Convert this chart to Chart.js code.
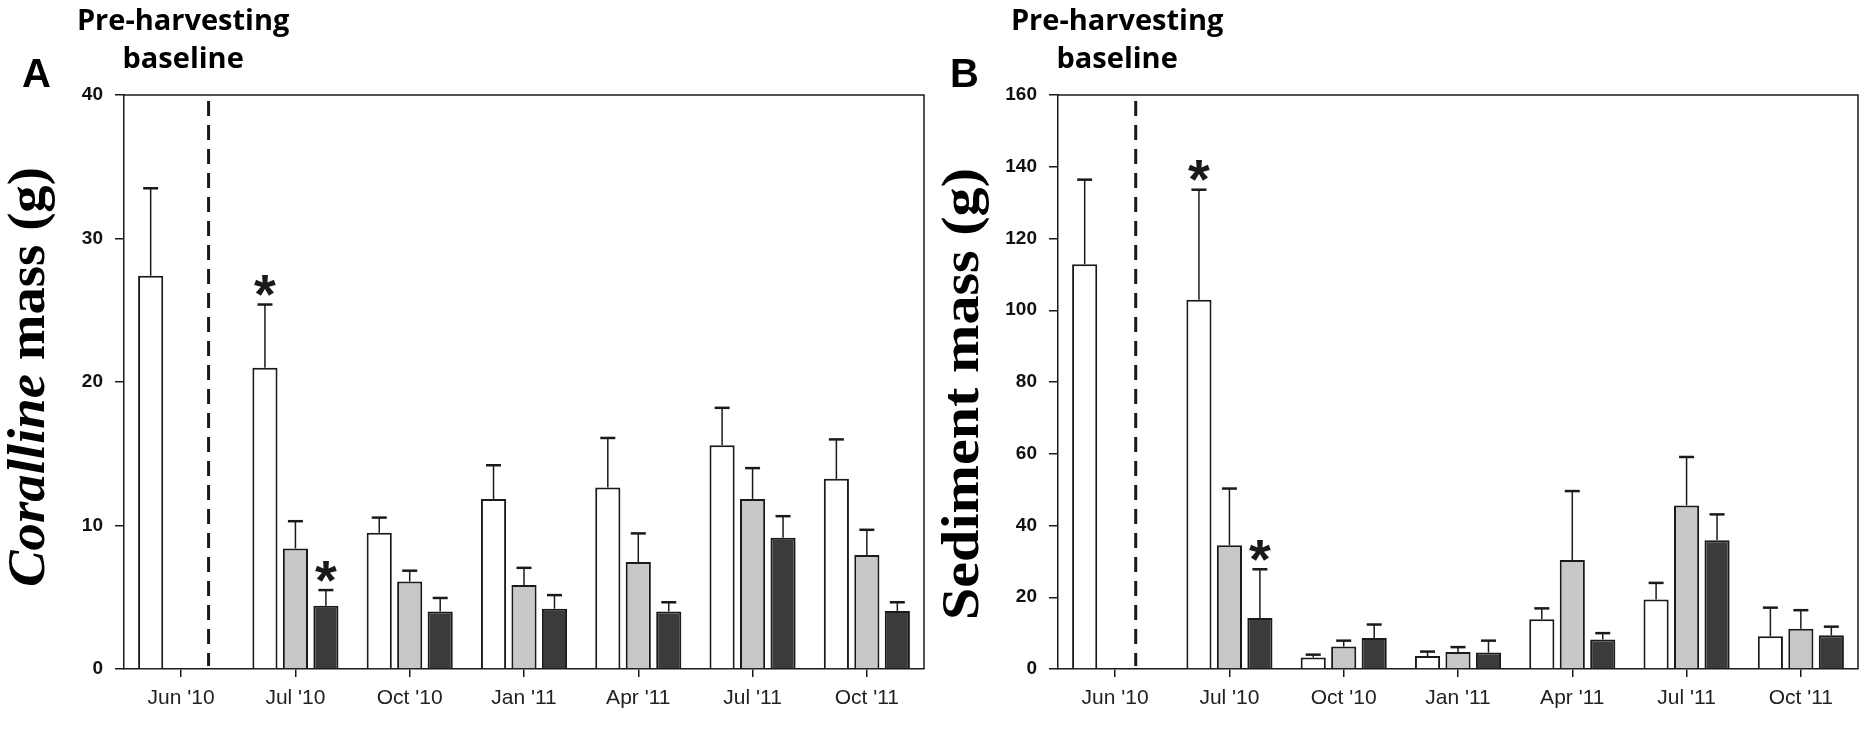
<!DOCTYPE html>
<html>
<head>
<meta charset="utf-8">
<script src="https://cdn.jsdelivr.net/npm/chart.js@4.4.1/dist/chart.umd.min.js"></script>
<style>
    body { margin: 0; background: #ffffff; }
    #wrap { position: relative; width: 1868px; height: 743px; }
    canvas { position: absolute; top: 0; }
    #panelA { left: 0; }
    #panelB { left: 934px; }
</style>
</head>
<body>
<div id="wrap">
    <canvas id="panelA" width="934" height="743"></canvas>
    <canvas id="panelB" width="934" height="743"></canvas>
</div>
<script>
// Categories (sampling dates)
var dates = ["Jun '10", "Jul '10", "Oct '10", "Jan '11", "Apr '11", "Jul '11", "Oct '11"];

// Panel A: Corallina mass (g), means and standard errors
var corallinaWhite = [27.4, 21.0, 9.5, 11.85, 12.65, 15.6, 13.25];
var corallinaWhiteErr = [6.1, 4.4, 1.05, 2.35, 3.45, 2.6, 2.75];
var corallinaGrey = [null, 8.4, 6.1, 5.85, 7.45, 11.85, 7.95];
var corallinaGreyErr = [null, 1.9, 0.75, 1.2, 2.0, 2.15, 1.75];
var corallinaDark = [null, 4.4, 4.0, 4.2, 4.0, 9.15, 4.05];
var corallinaDarkErr = [null, 1.1, 0.95, 0.95, 0.65, 1.5, 0.6];
var corallinaTicks = [0, 10, 20, 30, 40];

// Panel B: Sediment mass (g), means and standard errors
var sedimentWhite = [112.8, 102.9, 3.2, 3.6, 13.9, 19.4, 9.1];
var sedimentWhiteErr = [23.6, 30.7, 0.8, 1.25, 3.0, 4.6, 8.0];
var sedimentGrey = [null, 34.5, 6.25, 4.75, 30.4, 45.6, 11.2];
var sedimentGreyErr = [null, 15.8, 1.65, 1.35, 19.2, 13.5, 5.2];
var sedimentDark = [null, 14.2, 8.66, 4.57, 8.2, 35.9, 9.4];
var sedimentDarkErr = [null, 13.6, 3.74, 3.33, 1.8, 7.2, 2.4];
var sedimentTicks = [0, 20, 40, 60, 80, 100, 120, 140, 160];

// Significance marks: [series index, category index]
var corallinaStars = [[0, 1], [2, 1]];
var sedimentStars = [[0, 1], [2, 1]];

// Baseline divider position (in category units)
var corallinaDivider = 0.24;
var sedimentDivider = 0.18;

var baselineTitle = ['Pre-harvesting', 'baseline'];

var INK = '#1a1a1a';

function decorations(p) {
    return {
        id: 'decor',
        afterDatasetsDraw: function (chart) {
            var c = chart.ctx;
            var area = chart.chartArea;
            var xs = chart.scales.x;
            var ys = chart.scales.y;
            c.save();
            c.strokeStyle = INK;
            c.fillStyle = INK;

            // Error bars (upper only)
            for (var i = 0; i < p.series.length; i++) {
                var meta = chart.getDatasetMeta(i);
                for (var j = 0; j < p.series[i].length; j++) {
                    var v = p.series[i][j];
                    if (v === null) continue;
                    var bar = meta.data[j];
                    var yCap = ys.getPixelForValue(v + p.errors[i][j]);
                    c.lineWidth = 1.5;
                    c.beginPath();
                    c.moveTo(bar.x, bar.y);
                    c.lineTo(bar.x, yCap);
                    c.stroke();
                    c.lineWidth = 2.5;
                    c.beginPath();
                    c.moveTo(bar.x - 7.5, yCap);
                    c.lineTo(bar.x + 7.5, yCap);
                    c.stroke();
                }
            }

            // Dashed line separating the baseline
            var xd = xs.getPixelForValue(p.divider);
            c.lineWidth = 3;
            c.setLineDash([15, 9]);
            c.beginPath();
            c.moveTo(xd, area.top + 6);
            c.lineTo(xd, area.bottom - 3);
            c.stroke();
            c.setLineDash([]);

            // Asterisks
            c.font = 'bold 56px "Liberation Sans"';
            c.textAlign = 'center';
            c.textBaseline = 'alphabetic';
            var m = c.measureText('*');
            var asc = m.actualBoundingBoxAscent;
            var desc = m.actualBoundingBoxDescent;
            for (var k = 0; k < p.stars.length; k++) {
                var s = p.stars[k];
                var b = chart.getDatasetMeta(s[0]).data[s[1]];
                var val = p.series[s[0]][s[1]] + p.errors[s[0]][s[1]];
                var cy = ys.getPixelForValue(val) - 19;
                c.fillText('*', b.x, cy + (asc - desc) / 2);
            }
            c.restore();
        },
        afterDraw: function (chart) {
            var c = chart.ctx;
            var area = chart.chartArea;
            var xs = chart.scales.x;
            c.save();

            // Frame top and right
            c.strokeStyle = INK;
            c.lineWidth = 1.5;
            c.beginPath();
            c.moveTo(area.left, area.top);
            c.lineTo(area.right, area.top);
            c.lineTo(area.right, area.bottom);
            c.stroke();

            c.fillStyle = '#000000';

            // Panel letter
            c.font = 'bold 40px "Liberation Sans"';
            c.textAlign = 'left';
            c.textBaseline = 'alphabetic';
            c.fillText(p.letter, p.letterX, 87);

            // Baseline title above first category
            var cx = xs.getPixelForValue(0);
            c.font = 'bold 29px "Open Sans"';
            c.textAlign = 'center';
            c.fillText(baselineTitle[0], cx + 2, 30);
            c.fillText(baselineTitle[1], cx + 2, 68);

            // Y axis title, mixed italic / upright, stretched along its length
            c.translate(44, p.titleY);
            c.rotate(-Math.PI / 2);
            c.textAlign = 'left';
            var total = 0;
            var widths = [];
            for (var i = 0; i < p.title.length; i++) {
                c.font = (p.title[i].italic ? 'italic ' : '') + 'bold ' + p.titleSize + 'px "Liberation Serif"';
                widths.push(c.measureText(p.title[i].text).width);
                total += widths[i];
            }
            var stretch = p.titleLength / total;
            c.scale(stretch, 1);
            var x = -total / 2;
            for (var j = 0; j < p.title.length; j++) {
                c.font = (p.title[j].italic ? 'italic ' : '') + 'bold ' + p.titleSize + 'px "Liberation Serif"';
                c.fillText(p.title[j].text, x, 0);
                x += widths[j];
            }
            c.restore();
        }
    };
}

function makePanel(canvasId, p) {
    var ctx = document.getElementById(canvasId).getContext('2d');
    return new Chart(ctx, {
        type: 'bar',
        data: {
            labels: dates,
            datasets: [
                { data: p.series[0], backgroundColor: '#ffffff' },
                { data: p.series[1], backgroundColor: '#c8c8c8' },
                { data: p.series[2], backgroundColor: '#3b3b3b' }
            ]
        },
        options: {
            responsive: false,
            animation: false,
            devicePixelRatio: 1,
            layout: { padding: { top: 95, right: 10, left: 0, bottom: 0 } },
            plugins: {
                legend: { display: false },
                tooltip: { enabled: false }
            },
            datasets: {
                bar: {
                    borderColor: INK,
                    borderWidth: 2,
                    categoryPercentage: 0.8,
                    barPercentage: 0.825
                }
            },
            scales: {
                x: {
                    grid: { display: true, drawOnChartArea: false, offset: false, tickLength: 8, color: INK, lineWidth: 1.5 },
                    border: { display: true, color: INK, width: 1.5 },
                    ticks: { font: { family: 'Liberation Sans', size: 21 }, color: '#222222', padding: 9, maxRotation: 0 },
                    afterFit: function (s) { s.height = 74; }
                },
                y: {
                    min: 0,
                    max: p.ticks[p.ticks.length - 1],
                    afterBuildTicks: function (s) {
                        s.ticks = p.ticks.map(function (t) { return { value: t }; });
                    },
                    grid: { display: true, drawOnChartArea: false, tickLength: 9, color: INK, lineWidth: 1.5 },
                    border: { display: true, color: INK, width: 1.5 },
                    ticks: { font: { family: 'Liberation Sans', size: 19, weight: 'bold' }, color: '#111111', padding: 12 },
                    afterFit: function (s) { s.width = 124; }
                }
            }
        },
        plugins: [decorations(p)]
    });
}

makePanel('panelA', {
    series: [corallinaWhite, corallinaGrey, corallinaDark],
    errors: [corallinaWhiteErr, corallinaGreyErr, corallinaDarkErr],
    ticks: corallinaTicks,
    stars: corallinaStars,
    divider: corallinaDivider,
    letter: 'A',
    letterX: 22,
    title: [{ text: 'Coralline', italic: true }, { text: ' mass (g)', italic: false }],
    titleSize: 52,
    titleLength: 420,
    titleY: 377
});

makePanel('panelB', {
    series: [sedimentWhite, sedimentGrey, sedimentDark],
    errors: [sedimentWhiteErr, sedimentGreyErr, sedimentDarkErr],
    ticks: sedimentTicks,
    stars: sedimentStars,
    divider: sedimentDivider,
    letter: 'B',
    letterX: 16,
    title: [{ text: 'Sediment mass (g)', italic: false }],
    titleSize: 53,
    titleLength: 452,
    titleY: 394
});
</script>
</body>
</html>
